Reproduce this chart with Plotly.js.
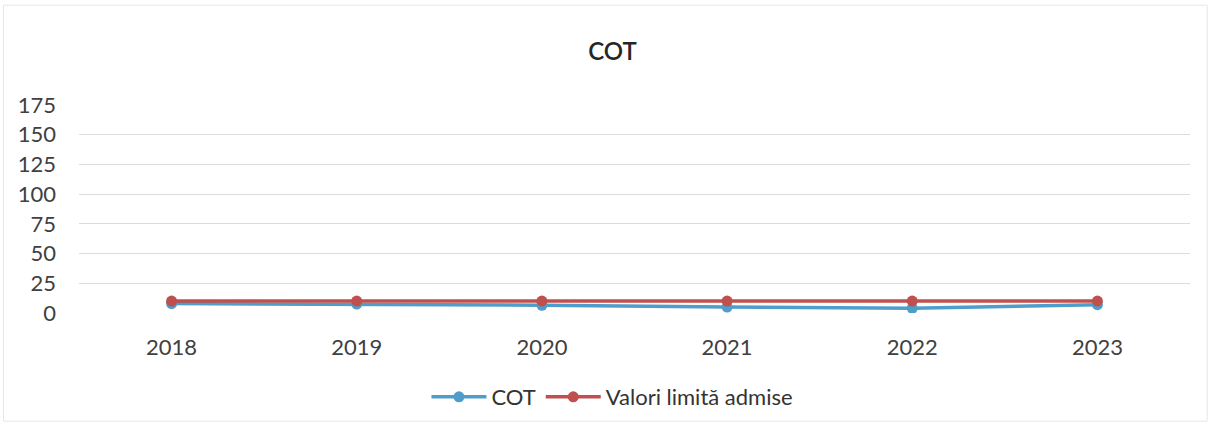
<!DOCTYPE html>
<html>
<head>
<meta charset="utf-8">
<script src="https://cdn.plot.ly/plotly-3.0.1.min.js"></script>
<style>html,body{margin:0;padding:0;background:#fff;}#chart{width:1208px;height:426px;}</style>
</head>
<body>
<div id="chart"></div>
<script>
const years = ["2018", "2019", "2020", "2021", "2022", "2023"];
const cotValues = [8, 7.5, 6.5, 5, 4, 7];
const limitValues = [10, 10, 10, 10, 10, 10];
const yTicks = [0, 25, 50, 75, 100, 125, 150, 175];

const fontFam = "Lato, 'Open Sans', sans-serif";

const traces = [
  {
    x: years, y: cotValues, name: "COT", type: "scatter", mode: "lines+markers",
    line: {color: "#4f9dcb", width: 3.5},
    marker: {color: "#4f9dcb", size: 11}
  },
  {
    x: years, y: limitValues, name: "Valori limită admise", type: "scatter", mode: "lines+markers",
    line: {color: "#c0504d", width: 3.5},
    marker: {color: "#c0504d", size: 11}
  }
];

const layout = {
  width: 1208, height: 426,
  margin: {l: 79, r: 18, t: 105, b: 112.5},
  paper_bgcolor: "#ffffff", plot_bgcolor: "#ffffff",
  font: {family: fontFam, size: 22, color: "#404040"},
  title: {text: "COT", x: 0.507, xanchor: "center", y: 0.878, yanchor: "middle", font: {family: fontFam, size: 24, weight: 600, color: "#262626"}},
  xaxis: {
    type: "category", range: [-0.5, 5.5], showgrid: false, zeroline: false, showline: false,
    ticks: "", ticklabelstandoff: 19, tickfont: {size: 22, color: "#404040"}, automargin: false
  },
  yaxis: {
    range: [0, 175], tickvals: yTicks, ticktext: yTicks.map(String),
    showgrid: true, gridcolor: "#dcdcdc", gridwidth: 1, zeroline: false, showline: false,
    ticks: "", ticklabelstandoff: 22, tickfont: {size: 22, color: "#404040"}, automargin: false
  },
  showlegend: true,
  legend: {orientation: "h", xref: "container", yref: "container", x: 0.507, xanchor: "center", y: 0.068, yanchor: "middle", font: {size: 22, color: "#333333"}, itemwidth: 55, tracegroupgap: 0},
  shapes: [
    {type: "rect", xref: "paper", yref: "paper", x0: -0.068, x1: 1.0155, y0: -0.52, y1: 1.48, line: {color: "#e6e6e6", width: 1}}
  ]
};

Plotly.newPlot("chart", traces, layout, {displayModeBar: false, staticPlot: true});
</script>
</body>
</html>
